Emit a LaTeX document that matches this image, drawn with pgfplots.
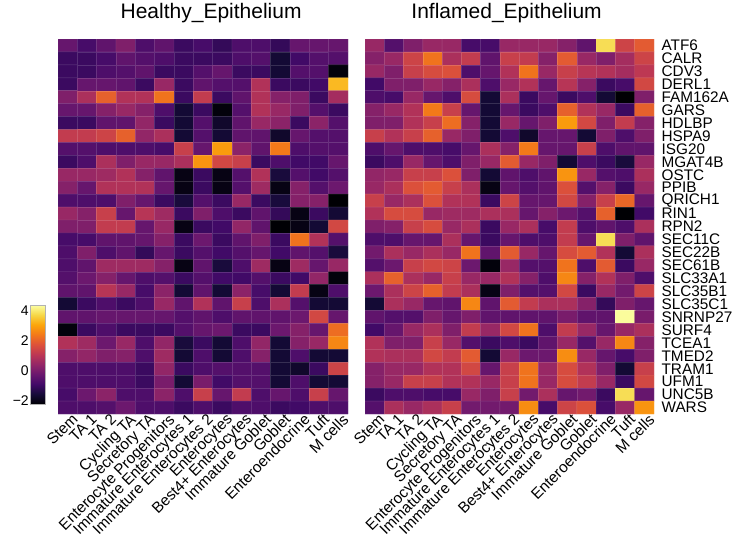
\documentclass[border=0pt]{standalone}
\usepackage{pgfplots}
\pgfplotsset{compat=1.18}
\usepackage{fontspec}
\setmainfont{Liberation Sans}
\pgfplotsset{colormap={inferno}{
rgb255=(0,0,4) rgb255=(22,11,57) rgb255=(66,10,104) rgb255=(106,23,110) rgb255=(147,38,103) rgb255=(188,55,84) rgb255=(221,81,58) rgb255=(243,120,25) rgb255=(252,165,10) rgb255=(246,215,70) rgb255=(252,255,164)}}
\pgfplotsset{
  hm/.style={
    scale only axis, width=217.5pt, height=281.25pt,
    anchor=north west,
    xmin=-0.5, xmax=14.5, ymin=-0.5, ymax=28.5, y dir=reverse,
    enlargelimits=false,
    colormap name=inferno,
    point meta min=-2.2, point meta max=4.35,
    axis line style={draw=none},
    major tick length=0pt,
    xtick={0,...,14},
    xticklabels={Stem,TA 1,TA 2,Cycling TA,Secretory TA,Enterocyte Progenitors,Immature Enterocytes 1,Immature Enterocytes 2,Enterocytes,Best4+ Enterocytes,Immature Goblet,Goblet,Enteroendocrine,Tuft,M cells},
    xticklabel style={rotate=45, anchor=north east, font=\fontsize{11.5}{12}\selectfont, inner sep=1pt, xshift=3.5pt},
    ytick={0,...,28},
    title style={anchor=base, yshift=9.75pt, font=\fontsize{15.75}{18}\selectfont},
  },
  cells/.style={matrix plot*, mesh/cols=15, point meta=explicit, shader=faceted, faceted color=mapped color!85!white, line width=0.3pt},
}
\begin{document}
\begin{tikzpicture}
\useasboundingbox (0,0) rectangle (553.5pt,-409.5pt);
\begin{axis}[hm, at={(43.5pt,-29.25pt)},
  yticklabels={},
  title={Healthy\_Epithelium}, title style={at={(0.528,1)}},
  colorbar,
  colorbar style={
    at={(parent axis.south west)}, anchor=south east,
    xshift=-18pt, yshift=7.5pt,
    scale only axis, width=11.25pt, height=74.25pt,
    ytick={-2,0,2,4}, yticklabels={−2,0,2,4},
    yticklabel pos=left,
    yticklabel style={font=\fontsize{10.5}{12}\selectfont, anchor=east, inner sep=1pt},
    major tick length=0pt,
    axis line style={draw=gray!60},
  },
]
\addplot[cells] coordinates {
(0,0)[-0.3] (1,0)[-0.8] (2,0)[-0.4] (3,0)[0.1] (4,0)[-0.7] (5,0)[-0.4] (6,0)[-1.0] (7,0)[-0.8] (8,0)[-1.1] (9,0)[-0.7] (10,0)[-0.7] (11,0)[-1.1] (12,0)[-0.3] (13,0)[-0.3] (14,0)[-0.3]
(0,1)[-1.0] (1,1)[-1.0] (2,1)[-0.8] (3,1)[-0.4] (4,1)[-0.6] (5,1)[-0.7] (6,1)[-1.0] (7,1)[-1.0] (8,1)[-1.0] (9,1)[-0.7] (10,1)[-0.6] (11,1)[-1.6] (12,1)[-0.9] (13,1)[-0.6] (14,1)[-0.6]
(0,2)[-1.0] (1,2)[-1.0] (2,2)[-0.7] (3,2)[-0.6] (4,2)[-0.4] (5,2)[-1.0] (6,2)[-1.0] (7,2)[-0.6] (8,2)[-0.3] (9,2)[-1.0] (10,2)[-1.0] (11,2)[-1.6] (12,2)[-0.6] (13,2)[-0.6] (14,2)[-2.1]
(0,3)[-1.0] (1,3)[-0.3] (2,3)[-0.3] (3,3)[-0.4] (4,3)[-1.0] (5,3)[0.5] (6,3)[-1.0] (7,3)[-0.4] (8,3)[-0.6] (9,3)[-0.6] (10,3)[0.9] (11,3)[-1.0] (12,3)[-1.0] (13,3)[-0.9] (14,3)[3.3]
(0,4)[0.1] (1,4)[0.8] (2,4)[2.0] (3,4)[0.9] (4,4)[0.9] (5,4)[2.3] (6,4)[-1.0] (7,4)[1.2] (8,4)[-1.0] (9,4)[-0.4] (10,4)[0.9] (11,4)[0.2] (12,4)[0.1] (13,4)[-1.0] (14,4)[0.7]
(0,5)[-0.3] (1,5)[-0.3] (2,5)[0.2] (3,5)[0.5] (4,5)[0.2] (5,5)[-0.7] (6,5)[-1.6] (7,5)[-1.0] (8,5)[-2.1] (9,5)[-0.6] (10,5)[0.9] (11,5)[0.5] (12,5)[0.1] (13,5)[-0.6] (14,5)[-1.0]
(0,6)[-1.0] (1,6)[-1.0] (2,6)[-0.4] (3,6)[-0.4] (4,6)[0.4] (5,6)[-1.0] (6,6)[-1.6] (7,6)[-0.6] (8,6)[-1.7] (9,6)[-0.4] (10,6)[0.5] (11,6)[0.3] (12,6)[-1.0] (13,6)[0.3] (14,6)[-0.6]
(0,7)[1.2] (1,7)[1.2] (2,7)[1.4] (3,7)[2.0] (4,7)[0.4] (5,7)[0.8] (6,7)[-1.6] (7,7)[-0.6] (8,7)[-1.6] (9,7)[-0.4] (10,7)[-0.4] (11,7)[-1.7] (12,7)[-0.3] (13,7)[-0.6] (14,7)[-0.6]
(0,8)[-0.6] (1,8)[-0.6] (2,8)[-0.7] (3,8)[-0.7] (4,8)[-0.7] (5,8)[-0.8] (6,8)[1.3] (7,8)[-0.3] (8,8)[2.9] (9,8)[0.3] (10,8)[-0.4] (11,8)[2.4] (12,8)[-0.7] (13,8)[-0.6] (14,8)[-0.6]
(0,9)[-1.0] (1,9)[-0.7] (2,9)[0.8] (3,9)[0.1] (4,9)[0.5] (5,9)[0.5] (6,9)[0.8] (7,9)[2.8] (8,9)[1.5] (9,9)[1.3] (10,9)[-1.0] (11,9)[-0.7] (12,9)[-0.9] (13,9)[-0.9] (14,9)[-0.3]
(0,10)[0.5] (1,10)[0.5] (2,10)[0.6] (3,10)[0.9] (4,10)[0.2] (5,10)[-0.4] (6,10)[-2.0] (7,10)[-1.0] (8,10)[-2.0] (9,10)[-0.6] (10,10)[0.9] (11,10)[-1.5] (12,10)[-0.6] (13,10)[-0.9] (14,10)[-0.6]
(0,11)[0.2] (1,11)[-0.3] (2,11)[0.9] (3,11)[0.9] (4,11)[0.9] (5,11)[-0.3] (6,11)[-2.0] (7,11)[-1.0] (8,11)[-2.0] (9,11)[-0.6] (10,11)[0.6] (11,11)[-2.0] (12,11)[0.2] (13,11)[-0.6] (14,11)[-0.2]
(0,12)[-0.7] (1,12)[-0.7] (2,12)[-0.7] (3,12)[0.1] (4,12)[-0.3] (5,12)[-1.0] (6,12)[-1.5] (7,12)[-0.6] (8,12)[-1.0] (9,12)[0.5] (10,12)[-1.0] (11,12)[-1.5] (12,12)[0.2] (13,12)[0.2] (14,12)[-2.2]
(0,13)[0.5] (1,13)[0.2] (2,13)[1.3] (3,13)[-0.3] (4,13)[1.0] (5,13)[0.6] (6,13)[-1.0] (7,13)[0.1] (8,13)[-0.7] (9,13)[-1.0] (10,13)[-0.4] (11,13)[-1.1] (12,13)[-2.0] (13,13)[-1.0] (14,13)[-1.6]
(0,14)[0.1] (1,14)[0.1] (2,14)[1.2] (3,14)[1.2] (4,14)[-0.3] (5,14)[0.5] (6,14)[-2.0] (7,14)[-1.0] (8,14)[-0.9] (9,14)[0.4] (10,14)[-0.4] (11,14)[-2.3] (12,14)[-2.0] (13,14)[-1.6] (14,14)[1.5]
(0,15)[-0.8] (1,15)[-0.8] (2,15)[-0.4] (3,15)[-0.4] (4,15)[-0.3] (5,15)[0.2] (6,15)[-1.0] (7,15)[-0.2] (8,15)[-1.0] (9,15)[-0.4] (10,15)[0.1] (11,15)[-1.0] (12,15)[2.3] (13,15)[0.9] (14,15)[-0.6]
(0,16)[-0.7] (1,16)[0.1] (2,16)[-0.7] (3,16)[-0.4] (4,16)[-1.1] (5,16)[-0.3] (6,16)[-1.0] (7,16)[-0.6] (8,16)[-0.9] (9,16)[-0.6] (10,16)[-0.3] (11,16)[-0.9] (12,16)[-0.4] (13,16)[-0.6] (14,16)[-1.5]
(0,17)[-0.7] (1,17)[-0.4] (2,17)[0.6] (3,17)[0.6] (4,17)[0.6] (5,17)[0.2] (6,17)[-2.0] (7,17)[-0.4] (8,17)[-1.5] (9,17)[-0.7] (10,17)[0.6] (11,17)[-2.0] (12,17)[0.6] (13,17)[-0.3] (14,17)[0.5]
(0,18)[-0.6] (1,18)[-0.2] (2,18)[0.2] (3,18)[-0.3] (4,18)[-0.7] (5,18)[-0.6] (6,18)[-1.0] (7,18)[-0.6] (8,18)[-0.9] (9,18)[-0.9] (10,18)[-0.6] (11,18)[-1.0] (12,18)[-0.9] (13,18)[0.4] (14,18)[-2.1]
(0,19)[-0.4] (1,19)[-0.4] (2,19)[1.0] (3,19)[0.5] (4,19)[-0.8] (5,19)[0.3] (6,19)[-1.6] (7,19)[-0.4] (8,19)[-1.6] (9,19)[0.3] (10,19)[-0.8] (11,19)[-1.6] (12,19)[1.2] (13,19)[-2.0] (14,19)[-0.7]
(0,20)[-1.6] (1,20)[-1.0] (2,20)[-0.7] (3,20)[-1.0] (4,20)[-0.7] (5,20)[0.5] (6,20)[-0.4] (7,20)[0.9] (8,20)[-0.4] (9,20)[1.3] (10,20)[-0.7] (11,20)[0.8] (12,20)[-0.6] (13,20)[-1.6] (14,20)[-1.6]
(0,21)[-0.4] (1,21)[-0.4] (2,21)[-0.3] (3,21)[-0.3] (4,21)[-0.3] (5,21)[-0.3] (6,21)[-0.6] (7,21)[-0.4] (8,21)[-0.7] (9,21)[-0.4] (10,21)[-0.4] (11,21)[-0.4] (12,21)[-0.2] (13,21)[1.5] (14,21)[-0.3]
(0,22)[-2.1] (1,22)[-1.0] (2,22)[-0.7] (3,22)[-1.0] (4,22)[-1.0] (5,22)[-1.0] (6,22)[-0.6] (7,22)[-0.3] (8,22)[-0.2] (9,22)[-1.0] (10,22)[-1.0] (11,22)[-0.2] (12,22)[0.2] (13,22)[-0.3] (14,22)[2.2]
(0,23)[0.9] (1,23)[0.6] (2,23)[-0.2] (3,23)[0.5] (4,23)[-0.7] (5,23)[0.4] (6,23)[-1.5] (7,23)[-1.0] (8,23)[-1.6] (9,23)[-0.7] (10,23)[0.4] (11,23)[-1.6] (12,23)[0.2] (13,23)[0.5] (14,23)[2.6]
(0,24)[0.2] (1,24)[0.4] (2,24)[0.1] (3,24)[0.2] (4,24)[-0.7] (5,24)[0.6] (6,24)[-1.6] (7,24)[-0.7] (8,24)[-1.6] (9,24)[-0.7] (10,24)[0.2] (11,24)[-1.6] (12,24)[-0.7] (13,24)[-1.6] (14,24)[-1.6]
(0,25)[-0.7] (1,25)[-0.7] (2,25)[-0.7] (3,25)[-0.7] (4,25)[-1.0] (5,25)[0.4] (6,25)[-1.0] (7,25)[-0.7] (8,25)[-0.6] (9,25)[-0.6] (10,25)[-0.6] (11,25)[-1.6] (12,25)[-1.7] (13,25)[-1.0] (14,25)[1.4]
(0,26)[-0.7] (1,26)[-0.7] (2,26)[-0.7] (3,26)[-0.7] (4,26)[-1.0] (5,26)[0.0] (6,26)[-1.6] (7,26)[0.0] (8,26)[-0.9] (9,26)[-0.6] (10,26)[-0.6] (11,26)[-1.6] (12,26)[-0.7] (13,26)[-1.6] (14,26)[-1.6]
(0,27)[-0.8] (1,27)[-0.2] (2,27)[0.3] (3,27)[-0.7] (4,27)[-0.7] (5,27)[0.3] (6,27)[-0.7] (7,27)[1.3] (8,27)[-0.3] (9,27)[1.2] (10,27)[-0.7] (11,27)[-0.3] (12,27)[-0.7] (13,27)[1.3] (14,27)[-0.3]
(0,28)[-0.7] (1,28)[-0.7] (2,28)[-0.6] (3,28)[-0.2] (4,28)[-0.7] (5,28)[-0.7] (6,28)[-1.0] (7,28)[-0.7] (8,28)[-1.0] (9,28)[-0.7] (10,28)[-0.7] (11,28)[-1.0] (12,28)[-0.9] (13,28)[-0.7] (14,28)[-0.7]
};
\end{axis}
\begin{axis}[hm, at={(273.75pt,-29.25pt)}, width=216.75pt,
  title={Inflamed\_Epithelium}, title style={at={(0.49,1)}},
  yticklabel pos=right,
  yticklabels={ATF6,CALR,CDV3,DERL1,FAM162A,GARS,HDLBP,HSPA9,ISG20,MGAT4B,OSTC,PPIB,QRICH1,RIN1,RPN2,SEC11C,SEC22B,SEC61B,SLC33A1,SLC35B1,SLC35C1,SNRNP27,SURF4,TCEA1,TMED2,TRAM1,UFM1,UNC5B,WARS},
  yticklabel style={anchor=west, font=\fontsize{11.5}{12}\selectfont, inner sep=0pt, xshift=5.5pt},
]
\addplot[cells] coordinates {
(0,0)[0.5] (1,0)[-0.6] (2,0)[0.1] (3,0)[0.5] (4,0)[0.5] (5,0)[-0.8] (6,0)[-0.8] (7,0)[0.5] (8,0)[0.5] (9,0)[0.5] (10,0)[0.2] (11,0)[-0.4] (12,0)[3.8] (13,0)[1.4] (14,0)[1.9]
(0,1)[0.2] (1,1)[0.5] (2,1)[1.4] (3,1)[2.3] (4,1)[0.8] (5,1)[1.2] (6,1)[-0.4] (7,1)[1.3] (8,1)[1.2] (9,1)[0.2] (10,1)[1.9] (11,1)[0.5] (12,1)[0.1] (13,1)[0.7] (14,1)[1.4]
(0,2)[0.5] (1,2)[0.1] (2,2)[1.3] (3,2)[1.6] (4,2)[1.7] (5,2)[-0.7] (6,2)[-0.3] (7,2)[0.9] (8,2)[2.3] (9,2)[0.5] (10,2)[1.3] (11,2)[1.0] (12,2)[0.9] (13,2)[0.7] (14,2)[1.1]
(0,3)[-0.9] (1,3)[0.1] (2,3)[0.1] (3,3)[0.5] (4,3)[0.2] (5,3)[0.8] (6,3)[-0.7] (7,3)[0.5] (8,3)[0.9] (9,3)[-0.3] (10,3)[1.0] (11,3)[0.2] (12,3)[-1.0] (13,3)[-0.8] (14,3)[1.5]
(0,4)[-0.7] (1,4)[-0.8] (2,4)[0.5] (3,4)[-0.3] (4,4)[-0.7] (5,4)[1.6] (6,4)[-1.6] (7,4)[0.8] (8,4)[-1.0] (9,4)[-0.3] (10,4)[-1.0] (11,4)[-0.7] (12,4)[-1.6] (13,4)[-2.3] (14,4)[0.1]
(0,5)[0.2] (1,5)[0.5] (2,5)[0.9] (3,5)[2.4] (4,5)[1.3] (5,5)[-0.3] (6,5)[-1.6] (7,5)[-0.3] (8,5)[-1.0] (9,5)[-0.7] (10,5)[2.0] (11,5)[0.9] (12,5)[0.5] (13,5)[-1.0] (14,5)[2.0]
(0,6)[0.1] (1,6)[0.1] (2,6)[0.9] (3,6)[1.3] (4,6)[2.2] (5,6)[0.2] (6,6)[-1.6] (7,6)[0.5] (8,6)[-0.3] (9,6)[0.1] (10,6)[2.9] (11,6)[1.5] (12,6)[0.1] (13,6)[1.2] (14,6)[0.2]
(0,7)[1.3] (1,7)[0.9] (2,7)[1.3] (3,7)[2.0] (4,7)[0.5] (5,7)[0.1] (6,7)[-1.6] (7,7)[-0.7] (8,7)[-1.7] (9,7)[-0.3] (10,7)[-0.3] (11,7)[-1.6] (12,7)[0.1] (13,7)[-0.7] (14,7)[0.1]
(0,8)[-0.7] (1,8)[-0.3] (2,8)[-0.7] (3,8)[-0.7] (4,8)[-0.8] (5,8)[-0.3] (6,8)[0.8] (7,8)[0.2] (8,8)[2.4] (9,8)[-0.3] (10,8)[-0.3] (11,8)[1.3] (12,8)[-0.7] (13,8)[-0.4] (14,8)[-0.4]
(0,9)[-1.0] (1,9)[-0.7] (2,9)[0.5] (3,9)[-0.3] (4,9)[-0.7] (5,9)[0.1] (6,9)[0.5] (7,9)[1.9] (8,9)[0.5] (9,9)[0.1] (10,9)[-1.6] (11,9)[-0.7] (12,9)[-1.0] (13,9)[-1.5] (14,9)[0.5]
(0,10)[0.4] (1,10)[0.5] (2,10)[1.3] (3,10)[1.3] (4,10)[1.7] (5,10)[0.1] (6,10)[-1.6] (7,10)[-0.4] (8,10)[-0.7] (9,10)[-0.4] (10,10)[2.8] (11,10)[0.5] (12,10)[-0.6] (13,10)[-0.7] (14,10)[0.8]
(0,11)[0.5] (1,11)[0.8] (2,11)[1.7] (3,11)[1.9] (4,11)[1.3] (5,11)[0.8] (6,11)[-2.0] (7,11)[-0.3] (8,11)[-0.6] (9,11)[-0.4] (10,11)[1.7] (11,11)[-0.6] (12,11)[0.2] (13,11)[-1.0] (14,11)[0.5]
(0,12)[1.3] (1,12)[0.5] (2,12)[0.8] (3,12)[1.7] (4,12)[0.9] (5,12)[0.9] (6,12)[-1.0] (7,12)[1.4] (8,12)[-0.3] (9,12)[-0.3] (10,12)[1.5] (11,12)[0.2] (12,12)[1.3] (13,12)[2.1] (14,12)[-0.3]
(0,13)[0.9] (1,13)[1.6] (2,13)[1.6] (3,13)[0.5] (4,13)[0.6] (5,13)[0.6] (6,13)[0.8] (7,13)[0.8] (8,13)[-0.3] (9,13)[0.2] (10,13)[-0.2] (11,13)[-0.6] (12,13)[2.0] (13,13)[-2.3] (14,13)[-0.9]
(0,14)[0.1] (1,14)[0.2] (2,14)[1.3] (3,14)[1.6] (4,14)[0.5] (5,14)[0.8] (6,14)[-1.0] (7,14)[0.5] (8,14)[0.8] (9,14)[-0.8] (10,14)[1.2] (11,14)[-0.7] (12,14)[-0.4] (13,14)[-0.7] (14,14)[0.8]
(0,15)[-0.7] (1,15)[-0.7] (2,15)[-0.3] (3,15)[-0.3] (4,15)[0.8] (5,15)[-0.3] (6,15)[-1.0] (7,15)[-0.3] (8,15)[-0.7] (9,15)[-0.7] (10,15)[1.2] (11,15)[-0.3] (12,15)[3.8] (13,15)[0.1] (14,15)[-0.4]
(0,16)[-0.1] (1,16)[0.8] (2,16)[0.5] (3,16)[0.8] (4,16)[0.5] (5,16)[2.3] (6,16)[-0.4] (7,16)[1.9] (8,16)[0.5] (9,16)[-0.3] (10,16)[1.6] (11,16)[1.9] (12,16)[0.9] (13,16)[-1.6] (14,16)[0.8]
(0,17)[-0.6] (1,17)[-0.2] (2,17)[1.3] (3,17)[1.5] (4,17)[1.4] (5,17)[-0.2] (6,17)[-2.1] (7,17)[0.5] (8,17)[-0.6] (9,17)[-0.6] (10,17)[2.3] (11,17)[-0.7] (12,17)[1.9] (13,17)[-1.0] (14,17)[0.5]
(0,18)[0.8] (1,18)[2.0] (2,18)[0.8] (3,18)[0.5] (4,18)[1.3] (5,18)[0.5] (6,18)[0.5] (7,18)[0.9] (8,18)[0.2] (9,18)[-0.7] (10,18)[2.6] (11,18)[0.2] (12,18)[0.9] (13,18)[0.1] (14,18)[-0.7]
(0,19)[-0.2] (1,19)[0.8] (2,19)[1.4] (3,19)[2.0] (4,19)[1.2] (5,19)[0.8] (6,19)[-2.0] (7,19)[0.1] (8,19)[-0.6] (9,19)[-0.6] (10,19)[1.5] (11,19)[-1.0] (12,19)[0.5] (13,19)[-0.1] (14,19)[1.4]
(0,20)[-1.6] (1,20)[0.8] (2,20)[0.5] (3,20)[-0.3] (4,20)[-0.4] (5,20)[2.6] (6,20)[-0.4] (7,20)[1.9] (8,20)[1.2] (9,20)[0.8] (10,20)[0.8] (11,20)[0.2] (12,20)[-1.1] (13,20)[0.1] (14,20)[-0.3]
(0,21)[-0.4] (1,21)[-0.6] (2,21)[-0.6] (3,21)[0.1] (4,21)[-0.3] (5,21)[0.1] (6,21)[-0.4] (7,21)[-0.4] (8,21)[-0.4] (9,21)[-0.4] (10,21)[0.0] (11,21)[-0.4] (12,21)[-0.4] (13,21)[4.3] (14,21)[0.0]
(0,22)[-0.9] (1,22)[-0.3] (2,22)[0.5] (3,22)[0.8] (4,22)[0.1] (5,22)[1.2] (6,22)[0.5] (7,22)[1.5] (8,22)[2.3] (9,22)[-0.7] (10,22)[1.2] (11,22)[0.5] (12,22)[-0.3] (13,22)[0.5] (14,22)[0.8]
(0,23)[0.9] (1,23)[0.1] (2,23)[0.1] (3,23)[1.3] (4,23)[0.5] (5,23)[-0.6] (6,23)[-1.0] (7,23)[-0.7] (8,23)[-1.0] (9,23)[-0.4] (10,23)[0.5] (11,23)[-0.6] (12,23)[0.5] (13,23)[2.6] (14,23)[0.2]
(0,24)[0.9] (1,24)[0.8] (2,24)[0.8] (3,24)[1.5] (4,24)[1.2] (5,24)[1.9] (6,24)[-1.6] (7,24)[0.5] (8,24)[-0.2] (9,24)[-0.2] (10,24)[2.7] (11,24)[0.5] (12,24)[-0.3] (13,24)[-0.8] (14,24)[0.1]
(0,25)[0.2] (1,25)[0.5] (2,25)[0.5] (3,25)[0.9] (4,25)[0.9] (5,25)[1.5] (6,25)[-0.3] (7,25)[1.3] (8,25)[2.3] (9,25)[0.5] (10,25)[1.6] (11,25)[0.9] (12,25)[0.1] (13,25)[-1.6] (14,25)[1.3]
(0,26)[0.2] (1,26)[0.5] (2,26)[1.3] (3,26)[1.3] (4,26)[0.9] (5,26)[0.9] (6,26)[0.5] (7,26)[1.3] (8,26)[2.3] (9,26)[0.5] (10,26)[1.6] (11,26)[1.2] (12,26)[0.5] (13,26)[-1.0] (14,26)[1.5]
(0,27)[-1.0] (1,27)[-0.7] (2,27)[-0.7] (3,27)[-0.8] (4,27)[-0.8] (5,27)[0.5] (6,27)[0.1] (7,27)[1.3] (8,27)[-0.1] (9,27)[0.8] (10,27)[-0.3] (11,27)[-0.1] (12,27)[-1.0] (13,27)[3.8] (14,27)[-0.3]
(0,28)[-0.6] (1,28)[0.8] (2,28)[0.5] (3,28)[0.8] (4,28)[1.3] (5,28)[-0.1] (6,28)[-0.1] (7,28)[-0.1] (8,28)[2.7] (9,28)[-0.8] (10,28)[1.4] (11,28)[1.7] (12,28)[-0.8] (13,28)[0.5] (14,28)[2.8]
};
\end{axis}
\end{tikzpicture}
\end{document}
